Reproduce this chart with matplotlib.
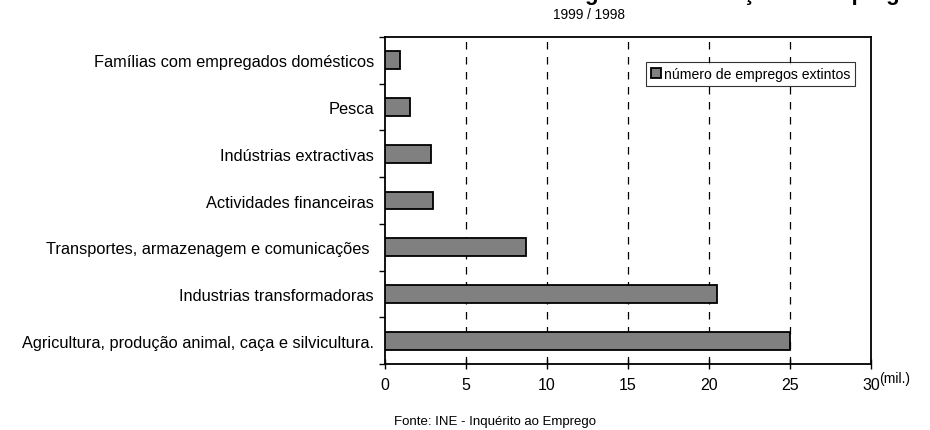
import numpy as np
import matplotlib.pyplot as plt

plt.rcParams['font.family'] = ['Liberation Sans', 'DejaVu Sans']

sectores = ['Agricultura, produção animal, caça e silvicultura.',
            'Industrias transformadoras',
            'Transportes, armazenagem e comunicações ',
            'Actividades financeiras',
            'Indústrias extractivas',
            'Pesca',
            'Famílias com empregados domésticos']
empregos = [25.0, 20.5, 8.73, 2.97, 2.81, 1.55, 0.92]
xticks = [0, 5, 10, 15, 20, 25, 30]

fig = plt.figure(figsize=(9.3, 4.31), dpi=100)
ax = fig.add_axes([0.414, 0.1531, 0.5226, 0.7587])

y = np.arange(len(sectores))
ax.barh(y, empregos, height=0.38, color='#808080', edgecolor='black',
        linewidth=1.3, label='número de empregos extintos', zorder=3)

ax.set_xlim(0, 30)
ax.set_ylim(-0.5, len(sectores) - 0.5)
ax.set_xticks(xticks)
ax.set_yticks(y)
ax.set_yticklabels(sectores, fontsize=11.8)
ax.tick_params(axis='y', length=0, pad=8)
ax.set_yticks(np.arange(-0.5, len(sectores)), minor=True)
ax.tick_params(axis='y', which='minor', length=4, direction='out', width=1)
ax.tick_params(axis='x', length=7, direction='inout', width=1, labelsize=11.5, pad=6)

for gx in xticks[1:-1]:
    ax.axvline(gx, color='black', linestyle=(0, (6, 6)), linewidth=0.9, zorder=1)

for s in ax.spines.values():
    s.set_linewidth(1.3)

leg = ax.legend(loc='upper right', bbox_to_anchor=(0.967, 0.9235), fontsize=10.1,
                frameon=True, fancybox=False, handlelength=0.7, handleheight=0.7,
                handletextpad=0.2, borderpad=0.35, borderaxespad=0)
leg.get_frame().set_edgecolor('black')
leg.get_frame().set_linewidth(0.8)

# titulo cortado no topo, como no original
fig.text(0.595, 1.0, 'Origem da destruição de emprego', fontsize=16,
         fontweight='bold', ha='left', va='baseline')
fig.text(0.633, 0.965, '1999 / 1998', fontsize=9.8, ha='center', va='center')
fig.text(0.962, 0.12, '(mil.)', fontsize=10, ha='center', va='center')
fig.text(0.532, 0.021, 'Fonte: INE - Inquérito ao Emprego', fontsize=9.5,
         ha='center', va='center')

fig.savefig('out.png', dpi=100)
